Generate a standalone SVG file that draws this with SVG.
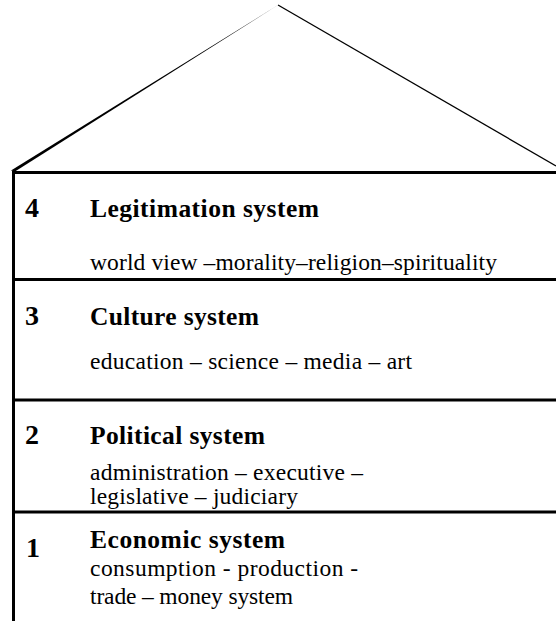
<svg xmlns="http://www.w3.org/2000/svg" width="556" height="621" viewBox="0 0 556 621">
<style>
.num{font-family:"Liberation Serif",serif;font-weight:bold;font-size:28px;fill:#000}
.title{font-family:"Liberation Serif",serif;font-weight:bold;font-size:25.5px;fill:#000}
.body{font-family:"Liberation Serif",serif;font-size:23.5px;fill:#000}
.rule{stroke:#000;stroke-width:3;fill:none}
</style>
<rect width="556" height="621" fill="#fff"/>
<g id="roof">
<polygon points="278,5 11,170.5 15,171.5" fill="#000"/>
<line x1="278" y1="5" x2="556" y2="166" stroke="#000" stroke-width="1.3"/>
</g>
<g id="connectors">
<line class="rule" x1="13.5" y1="171" x2="13.5" y2="621"/>
<line class="rule" x1="12" y1="172.5" x2="556" y2="172.5"/>
<line class="rule" x1="12" y1="279.5" x2="556" y2="279.5"/>
<line class="rule" x1="12" y1="400" x2="556" y2="400"/>
<line class="rule" x1="12" y1="512" x2="556" y2="512"/>
</g>
<g id="level4">
<text class="num" x="25" y="217">4</text>
<text class="title" x="90" y="217" textLength="229" lengthAdjust="spacing">Legitimation system</text>
<text class="body" x="90" y="270" textLength="407" lengthAdjust="spacing">world view –morality–religion–spirituality</text>
</g>
<g id="level3">
<text class="num" x="25" y="325">3</text>
<text class="title" x="90" y="325" textLength="169" lengthAdjust="spacing">Culture system</text>
<text class="body" x="90" y="369" textLength="322" lengthAdjust="spacing">education – science – media – art</text>
</g>
<g id="level2">
<text class="num" x="25" y="444">2</text>
<text class="title" x="90" y="444" textLength="175" lengthAdjust="spacing">Political system</text>
<text class="body" x="90" y="480" textLength="273" lengthAdjust="spacing">administration – executive –</text>
<text class="body" x="90" y="504" textLength="208" lengthAdjust="spacing">legislative – judiciary</text>
</g>
<g id="level1">
<text class="num" x="26" y="557">1</text>
<text class="title" x="90" y="548" textLength="195" lengthAdjust="spacing">Economic system</text>
<text class="body" x="90" y="576" textLength="268" lengthAdjust="spacing">consumption  - production -</text>
<text class="body" x="90" y="604" textLength="203" lengthAdjust="spacing">trade – money system</text>
</g>
</svg>
